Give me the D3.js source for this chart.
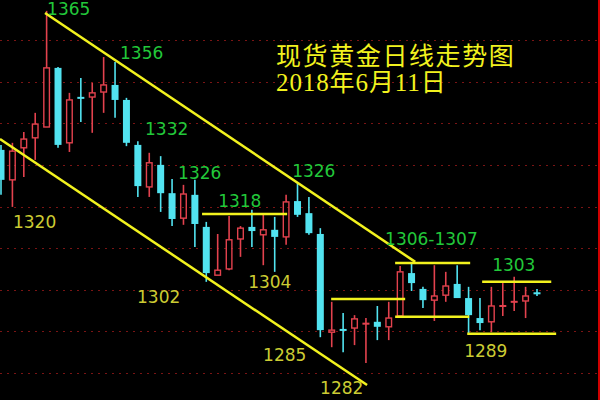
<!DOCTYPE html>
<html><head><meta charset="utf-8">
<script src="https://cdn.jsdelivr.net/npm/d3@7"></script>
<style>html,body{margin:0;padding:0;background:#000;}svg{display:block;}</style>
</head><body>
<svg id="chart" width="600" height="400"></svg>
<script>
// ---- data ----
const open  = [1331.6,1324.4,1332.1,1334.5,1337.1,1351.3,1333.3,1344.3,1344.3,1345.5,1347.2,1343.6,1332.8,1322.7,1328.0,1321.2,1315.2,1320.8,1313.1,1301.5,1303.0,1310.2,1313.1,1311.2,1312.4,1310.7,1319.3,1316.4,1311.4,1287.8,1288.5,1288.8,1289.8,1290.3,1289.1,1291.7,1302.0,1298.2,1295.5,1296.7,1299.4,1296.0,1291.2,1290.3,1294.0,1295.0,1295.3,1297.2];
const close = [1324.4,1331.3,1334.2,1337.8,1351.3,1332.8,1343.6,1343.9,1345.3,1347.2,1343.6,1333.3,1322.9,1328.5,1321.2,1315.0,1321.0,1313.8,1302.0,1302.7,1310.0,1312.8,1312.1,1312.4,1310.7,1319.1,1316.0,1311.6,1288.3,1288.3,1288.2,1291.0,1289.9,1289.1,1291.2,1302.3,1299.6,1295.5,1296.5,1298.9,1296.0,1291.9,1290.0,1294.1,1294.2,1295.2,1296.5,1297.1];
const high  = [1332.8,1333.3,1335.9,1340.5,1365.0,1351.5,1345.3,1348.9,1347.7,1353.9,1352.7,1344.1,1333.7,1330.9,1330.1,1324.6,1323.2,1324.4,1314.3,1311.4,1315.7,1313.3,1317.2,1316.0,1315.5,1320.8,1323.6,1320.3,1312.8,1295.1,1292.4,1291.9,1291.2,1294.1,1295.1,1303.7,1304.4,1298.7,1303.9,1302.3,1303.9,1298.7,1296.0,1298.7,1299.6,1301.1,1298.7,1298.2];
const low   = [1320.8,1317.9,1325.1,1329.2,1337.1,1332.1,1331.1,1338.3,1335.7,1340.5,1339.3,1332.5,1320.3,1320.3,1316.7,1313.3,1313.6,1308.3,1299.9,1301.5,1302.7,1305.9,1308.3,1303.9,1302.3,1308.8,1315.5,1311.2,1286.6,1284.2,1283.0,1284.7,1280.4,1285.9,1285.9,1291.5,1297.7,1293.6,1290.5,1295.1,1296.0,1287.6,1288.3,1287.8,1291.7,1292.9,1291.2,1296.5];

const gridPrices = [1358,1348,1338,1328,1318,1308,1298,1288,1278];

const titleLines = ["现货黄金日线走势图", "2018年6月11日"];

// annotation labels (text, candle-index anchor, price anchor, kind)
const labelText  = ["1365","1356","1332","1326","1318","1326","1304","1302","1320","1285","1282","1306-1307","1303","1289"];
const labelIndex = [4.04,10.44,12.63,15.53,19.04,25.53,21.67,11.93,1.05,22.98,27.98,33.68,43.07,40.61];
const labelPrice = [1364.0,1353.4,1335.2,1324.6,1317.9,1325.1,1298.4,1294.8,1312.8,1280.9,1273.0,1308.8,1302.5,1281.8];
const labelKind  = ["g","g","g","g","g","g","y","y","y","y","y","g","g","y"];

// trend / level lines: [i0, p0, i1, p1]
const lineI0 = [3.86, -0.09, 17.63, 34.56, 34.56, 28.95, 42.19, 40.88];
const lineP0 = [1364.5, 1334.2, 1316.2, 1304.4, 1291.5, 1295.8, 1299.9, 1287.4];
const lineI1 = [36.32, 32.10, 25.09, 41.14, 41.05, 35.44, 48.25, 48.68];
const lineP1 = [1304.7, 1275.1, 1316.2, 1304.4, 1291.5, 1295.8, 1299.9, 1287.4];

// ---- drawing ----
const W = 600, H = 400;
const svg = d3.select("#chart");
svg.append("rect").attr("width", W).attr("height", H).attr("fill", "#000");

const x = d3.scaleLinear().domain([0, 47]).range([1, 537]);
const y = d3.scaleLinear().domain([1278, 1358]).range([373, 40]);

const RED = "#e3424e", CYAN = "#52e3f0", YEL = "#f2f21e";

// grid
svg.append("g").selectAll("line").data(gridPrices).join("line")
  .attr("x1", 0).attr("x2", 597)
  .attr("y1", d => Math.round(y(d)) + 0.5).attr("y2", d => Math.round(y(d)) + 0.5)
  .attr("stroke", "#7a1414").attr("stroke-width", 1.2)
  .attr("stroke-dasharray", "2,5");

// right red border line
svg.append("line").attr("x1", 599).attr("x2", 599).attr("y1", 0).attr("y2", H)
  .attr("stroke", "#d00000").attr("stroke-width", 2);

// candles
const candles = open.map((o, i) => ({i, o, c: close[i], h: high[i], l: low[i]}));
const cg = svg.append("g");
const bw = 7;
candles.forEach(d => {
  const cx = x(d.i);
  const up = d.c >= d.o;
  const top = y(Math.max(d.o, d.c)), bot = y(Math.min(d.o, d.c));
  const col = up ? RED : CYAN;
  if (up) {
    if (bot - top < 2) {
      cg.append("line").attr("x1", cx).attr("x2", cx).attr("y1", y(d.h)).attr("y2", y(d.l))
        .attr("stroke", col).attr("stroke-width", 1.6);
      cg.append("rect").attr("x", cx - bw / 2).attr("width", bw)
        .attr("y", (top + bot) / 2 - 1).attr("height", 2).attr("fill", col);
    } else {
      cg.append("line").attr("x1", cx).attr("x2", cx).attr("y1", y(d.h)).attr("y2", top)
        .attr("stroke", col).attr("stroke-width", 1.6);
      cg.append("line").attr("x1", cx).attr("x2", cx).attr("y1", bot).attr("y2", y(d.l))
        .attr("stroke", col).attr("stroke-width", 1.6);
      cg.append("rect").attr("x", cx - bw / 2 + 0.7).attr("width", bw - 1.4)
        .attr("y", top).attr("height", bot - top)
        .attr("fill", "none").attr("stroke", col).attr("stroke-width", 1.4);
    }
  } else {
    cg.append("line").attr("x1", cx).attr("x2", cx).attr("y1", y(d.h)).attr("y2", y(d.l))
      .attr("stroke", col).attr("stroke-width", 1.6);
    cg.append("rect").attr("x", cx - bw / 2).attr("width", bw)
      .attr("y", Math.min(top, (top + bot) / 2 - 1)).attr("height", Math.max(bot - top, 2))
      .attr("fill", col);
  }
});

// yellow lines
svg.append("g").selectAll("line").data(lineI0.map((v, k) => k)).join("line")
  .attr("x1", k => x(lineI0[k])).attr("y1", k => y(lineP0[k]))
  .attr("x2", k => x(lineI1[k])).attr("y2", k => y(lineP1[k]))
  .attr("stroke", YEL).attr("stroke-width", 2.5);

// annotation labels
svg.append("g").selectAll("text").data(labelText.map((t, k) => k)).join("text")
  .attr("x", k => x(labelIndex[k])).attr("y", k => y(labelPrice[k]))
  .attr("font-family", "'DejaVu Sans', sans-serif").attr("font-size", 17)
  .attr("fill", k => labelKind[k] === "g" ? "#22c83a" : "#cccc33")
  .text(k => labelText[k]);

// title
svg.append("g").selectAll("text").data(titleLines).join("text")
  .attr("x", 276).attr("y", (d, i) => 65 + i * 26)
  .attr("font-family", "'Liberation Serif', 'Noto Sans CJK SC', serif")
  .attr("font-size", 25).attr("fill", YEL)
  .attr("letter-spacing", (d, i) => i === 0 ? 1.6 : 0.9)
  .text(d => d);
</script>
</body></html>
